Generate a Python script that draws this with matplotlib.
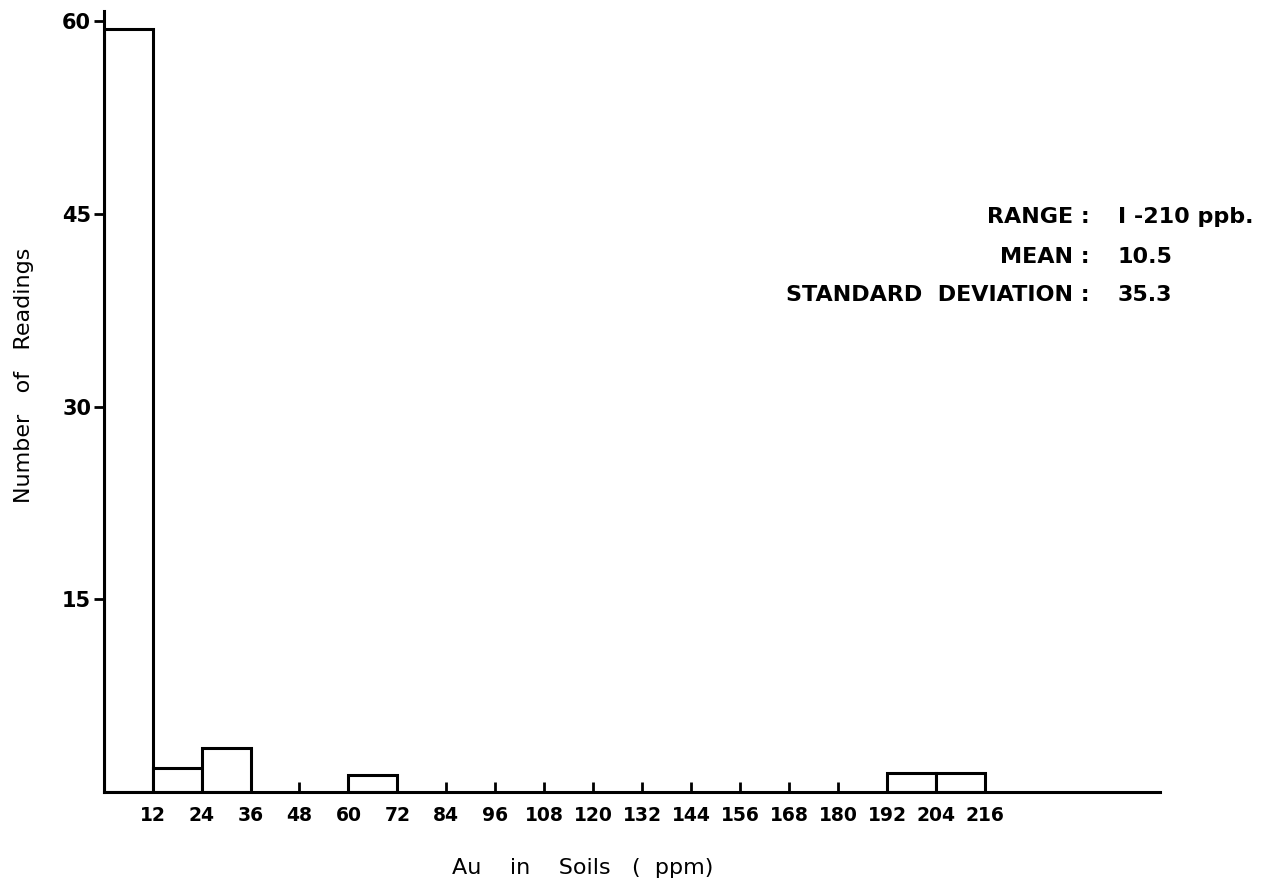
import matplotlib
matplotlib.use("Agg")
import matplotlib.pyplot as plt

# histogram bins (left edges, ppm) and counts
bin_left = [0, 12, 24, 60, 192, 204]
counts = [59.4, 1.9, 3.4, 1.3, 1.5, 1.5]
bin_width = 12

x_ticks = list(range(12, 217, 12))
y_ticks = [15, 30, 45, 60]

stat_names = ["RANGE", "MEAN", "STANDARD  DEVIATION"]
stat_values = ["I -210 ppb.", "10.5", "35.3"]

plt.rcParams["font.family"] = ["DejaVu Sans"]

fig = plt.figure(figsize=(12.64, 8.82), dpi=100)
ax = fig.add_axes([0.082, 0.102, 0.836, 0.8855])

ax.bar(bin_left, counts, width=bin_width, align="edge",
       facecolor="white", edgecolor="black", linewidth=2.2)

ax.set_xlim(0, 259)
ax.set_ylim(0, 60.8)

for side in ["top", "right"]:
    ax.spines[side].set_visible(False)
for side in ["left", "bottom"]:
    ax.spines[side].set_linewidth(2.2)

ax.set_xticks(x_ticks)
ax.set_xticklabels([str(t) for t in x_ticks], fontsize=13.5, fontweight="bold")
ax.tick_params(axis="x", direction="in", length=7, width=2, pad=10)
ax.set_yticks(y_ticks)
ax.set_yticklabels([str(t) for t in y_ticks], fontsize=15, fontweight="bold")
ax.tick_params(axis="y", direction="out", length=7, width=2, pad=2)

ax.set_xlabel("Au    in    Soils   (  ppm)", fontsize=16)
ax.xaxis.set_label_coords(0.4536, -0.085)
ax.set_ylabel("Number   of   Readings", fontsize=16)
ax.yaxis.set_label_coords(-0.066, 0.534)

# summary statistics, colons lined up
y_rows = [217, 257, 295]
for name, val, yp in zip(stat_names, stat_values, y_rows):
    fy = 1 - yp / 882
    fig.text(1090 / 1264, fy, name + " :", ha="right", va="center",
             fontsize=16, fontweight="bold")
    fig.text(1118 / 1264, fy, val, ha="left", va="center",
             fontsize=16, fontweight="bold")

fig.savefig("out.png", dpi=100, facecolor="white")
